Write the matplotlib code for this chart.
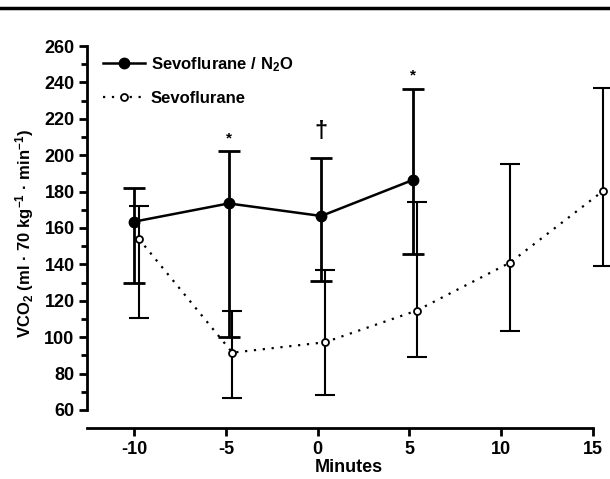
import numpy as np
import matplotlib.pyplot as plt
from matplotlib.lines import Line2D

plt.rcParams['font.family'] = ['Liberation Sans', 'DejaVu Sans']
plt.rcParams['font.weight'] = 'bold'
plt.rcParams['mathtext.fontset'] = 'custom'
plt.rcParams['mathtext.rm'] = 'Liberation Sans:bold'
plt.rcParams['mathtext.bf'] = 'Liberation Sans:bold'
plt.rcParams['mathtext.default'] = 'bf'
plt.rcParams['axes.unicode_minus'] = False

# 데이터
n2o_x = [-10, -4.85, 0.2, 5.2]
n2o_mean = [163.5, 173.5, 166.6, 186.4]
n2o_low = [130, 100, 131, 145.7]
n2o_high = [181.8, 202.5, 198.3, 236.2]

sevo_x = [-9.75, -4.65, 0.4, 5.4, 10.5, 15.55]
sevo_mean = [154, 91.5, 97.2, 114.6, 141, 180.2]
sevo_low = [110.7, 66.6, 68.2, 89, 103.6, 139]
sevo_high = [172, 114.6, 137, 174.5, 195.2, 237]

marks = ['*', '\u2020', '*']
mark_x = [-4.85, 0.2, 5.2]
mark_y = [209, 213, 244]

xticks = [-10, -5, 0, 5, 10, 15]
yticks = [60, 80, 100, 120, 140, 160, 180, 200, 220, 240, 260]

fig = plt.figure(figsize=(6.1, 4.79), dpi=100)
ax = fig.add_axes([87/610, 51/479, 523/610, 388/479])

n2o_x = np.array(n2o_x); n2o_mean = np.array(n2o_mean)
sevo_x = np.array(sevo_x); sevo_mean = np.array(sevo_mean)

# 오차 막대
ax.errorbar(n2o_x, n2o_mean, yerr=[n2o_mean - np.array(n2o_low), np.array(n2o_high) - n2o_mean],
            fmt='none', ecolor='black', elinewidth=2, capsize=8, capthick=2, zorder=2)
ax.errorbar(sevo_x, sevo_mean, yerr=[sevo_mean - np.array(sevo_low), np.array(sevo_high) - sevo_mean],
            fmt='none', ecolor='black', elinewidth=1.5, capsize=7, capthick=1.5, zorder=2)

ax.plot(n2o_x, n2o_mean, color='black', linestyle='solid', linewidth=1.8,
        marker='o', markersize=7.5, markerfacecolor='black', zorder=3,
        label='Sevoflurane / N$_2$O')
ax.plot(sevo_x, sevo_mean, color='black', linestyle=(0, (1, 3)), linewidth=1.6,
        marker='o', markersize=5, markerfacecolor='white', markeredgewidth=1.3, zorder=3,
        label='Sevoflurane')

for m, mx, my in zip(marks, mark_x, mark_y):
    ax.text(mx, my, m, ha='center', va='center', fontsize=17 if m != '*' else 11, fontweight='bold')

# 축 설정
ax.set_xlim(-12.58, 15.95)
ax.set_ylim(50.1, 263.3)
ax.spines['top'].set_visible(False)
ax.spines['right'].set_visible(False)
ax.spines['left'].set_bounds(60, 260)
ax.spines['bottom'].set_bounds(-12.58, 15)
ax.spines['left'].set_linewidth(2)
ax.spines['bottom'].set_linewidth(2)

ax.set_xticks(xticks)
ax.set_yticks(yticks)
ax.set_yticks(np.arange(70, 260, 20), minor=True)
ax.tick_params(axis='both', which='major', direction='out', length=6, width=2, labelsize=13, pad=3)
ax.tick_params(axis='y', which='minor', direction='out', length=4, width=2)

ax.set_xlabel('Minutes', fontsize=13, fontweight='bold', labelpad=1)
ax.set_ylabel('VCO$_2$ (ml \u00b7 70 kg$^{-1}$ \u00b7 min$^{-1}$)', fontsize=12, fontweight='bold', labelpad=6)

ax.legend(loc='upper left', bbox_to_anchor=(0.012, 0.987), frameon=False, fontsize=12,
          handlelength=2.5, handletextpad=0.35, labelspacing=1.05, borderaxespad=0.2)

# 상단 가로선
fig.add_artist(Line2D([0, 1], [1 - 8/479, 1 - 8/479], color='black', linewidth=2.5))

plt.savefig('out.png', dpi=100)
